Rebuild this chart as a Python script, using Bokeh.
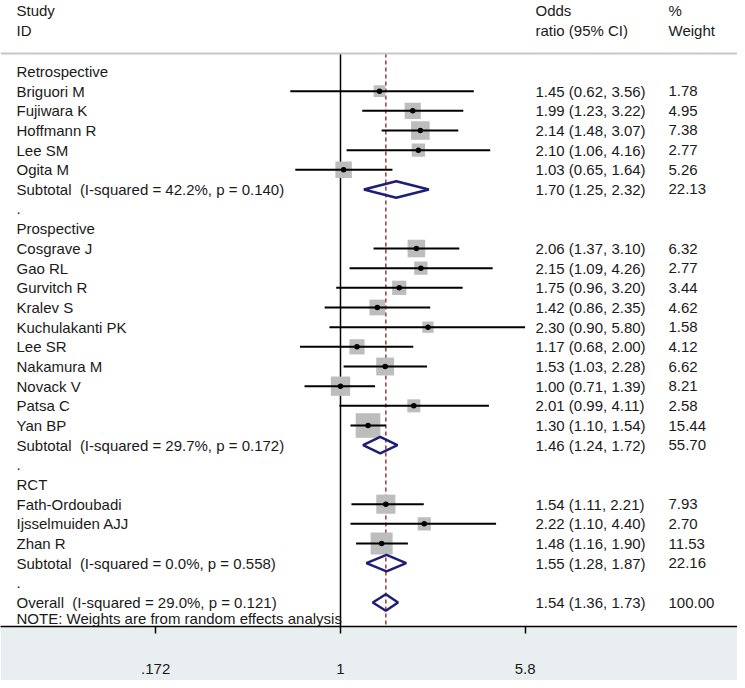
import math
from bokeh.plotting import figure
from bokeh.models import Range1d, FixedTicker, Span, ColumnDataSource
from bokeh.core.properties import value
from bokeh.embed import file_html
from bokeh.resources import INLINE

# ---------------- data ----------------
retro_names = ["Briguori M", "Fujiwara K", "Hoffmann R", "Lee SM", "Ogita M"]
retro_or = [1.45, 1.99, 2.14, 2.10, 1.03]
retro_lo = [0.62, 1.23, 1.48, 1.06, 0.65]
retro_hi = [3.56, 3.22, 3.07, 4.16, 1.64]
retro_w = [1.78, 4.95, 7.38, 2.77, 5.26]

pro_names = ["Cosgrave J", "Gao RL", "Gurvitch R", "Kralev S", "Kuchulakanti PK",
             "Lee SR", "Nakamura M", "Novack V", "Patsa C", "Yan BP"]
pro_or = [2.06, 2.15, 1.75, 1.42, 2.30, 1.17, 1.53, 1.00, 2.01, 1.30]
pro_lo = [1.37, 1.09, 0.96, 0.86, 0.90, 0.68, 1.03, 0.71, 0.99, 1.10]
pro_hi = [3.10, 4.26, 3.20, 2.35, 5.80, 2.00, 2.28, 1.39, 4.11, 1.54]
pro_w = [6.32, 2.77, 3.44, 4.62, 1.58, 4.12, 6.62, 8.21, 2.58, 15.44]

rct_names = ["Fath-Ordoubadi", "Ijsselmuiden AJJ", "Zhan R"]
rct_or = [1.54, 2.22, 1.48]
rct_lo = [1.11, 1.10, 1.16]
rct_hi = [2.21, 4.40, 1.90]
rct_w = [7.93, 2.70, 11.53]

group_names = ["Retrospective", "Prospective", "RCT"]
sub_or = [1.70, 1.46, 1.55]
sub_lo = [1.25, 1.24, 1.28]
sub_hi = [2.32, 1.72, 1.87]
sub_w = [22.13, 55.70, 22.16]
sub_i2 = ["42.2%", "29.7%", "0.0%"]
sub_p = ["0.140", "0.172", "0.558"]

overall_or, overall_lo, overall_hi, overall_w = 1.54, 1.36, 1.73, 100.00
overall_i2, overall_p = "29.0%", "0.121"

note_text = "NOTE: Weights are from random effects analysis"
header_left = ["Study", "ID"]
header_or = ["Odds", "ratio (95% CI)"]
header_w = ["%", "Weight"]

x_ticks = [0.172, 1, 5.8]
x_tick_labels = [".172", "1", "5.8"]

groups = [
    (retro_names, retro_or, retro_lo, retro_hi, retro_w),
    (pro_names, pro_or, pro_lo, pro_hi, pro_w),
    (rct_names, rct_or, rct_lo, rct_hi, rct_w),
]

GAP = " \u00a0"  # Stata's double space before the heterogeneity statistics

# ---------------- row layout ----------------
lab_y, lab_t = [], []
or_y, or_t, w_y, w_t = [], [], [], []
st_y, st_or, st_lo, st_hi, st_w = [], [], [], [], []
dm_y, dm_or, dm_lo, dm_hi = [], [], [], []

r = 0
for gi, (names, ors, los, his, ws) in enumerate(groups):
    lab_y.append(r); lab_t.append(group_names[gi]); r += 1
    for n, o, lo, hi, w in zip(names, ors, los, his, ws):
        lab_y.append(r); lab_t.append(n)
        or_y.append(r); or_t.append(f"{o:.2f} ({lo:.2f}, {hi:.2f})")
        w_y.append(r); w_t.append(f"{w:.2f}")
        st_y.append(r); st_or.append(o); st_lo.append(lo); st_hi.append(hi); st_w.append(w)
        r += 1
    lab_y.append(r); lab_t.append(f"Subtotal{GAP}(I-squared = {sub_i2[gi]}, p = {sub_p[gi]})")
    or_y.append(r); or_t.append(f"{sub_or[gi]:.2f} ({sub_lo[gi]:.2f}, {sub_hi[gi]:.2f})")
    w_y.append(r); w_t.append(f"{sub_w[gi]:.2f}")
    dm_y.append(r); dm_or.append(sub_or[gi]); dm_lo.append(sub_lo[gi]); dm_hi.append(sub_hi[gi])
    r += 1
    lab_y.append(r); lab_t.append("."); r += 1

lab_y.append(r); lab_t.append(f"Overall{GAP}(I-squared = {overall_i2}, p = {overall_p})")
or_y.append(r); or_t.append(f"{overall_or:.2f} ({overall_lo:.2f}, {overall_hi:.2f})")
w_y.append(r); w_t.append(f"{overall_w:.2f}")
dm_y.append(r); dm_or.append(overall_or); dm_lo.append(overall_lo); dm_hi.append(overall_hi)
r += 1
note_row = r - 0.2

HEAD_ROWS = [-3.1, -2.08]
SEP_ROW = -0.915
X_LO, X_HI = 0.03924, 43.86
Y_TOP, Y_BOT = -3.61, 28.22

FONT = value("Liberation Sans")
TXT = "#1a1a1a"
FS = "15px"

p = figure(width=737, height=680, x_axis_type="log",
           x_range=Range1d(X_LO, X_HI), y_range=Range1d(Y_BOT, Y_TOP),
           output_backend="svg", toolbar_location=None, y_axis_location=None,
           min_border_left=0, min_border_right=0, min_border_top=0, min_border_bottom=54,
           border_fill_color="#e9eff1", background_fill_color="white",
           outline_line_color=None)
p.grid.visible = False

ax = p.xaxis[0]
ax.ticker = FixedTicker(ticks=x_ticks)
ax.major_label_overrides = dict(zip(x_ticks, x_tick_labels))
ax.axis_line_width = 1.5
ax.axis_line_color = "black"
ax.major_tick_out = 7
ax.major_tick_in = 0
ax.major_tick_line_width = 1.5
ax.minor_tick_line_color = None
ax.major_label_standoff = 30
ax.major_label_text_font = "Liberation Sans"
ax.major_label_text_font_size = FS
ax.major_label_text_color = TXT

# separator
p.add_layout(Span(location=SEP_ROW, dimension="width", line_color="#c8c8c8", line_width=2))

# null line and overall line
p.segment(x0=[1], y0=[SEP_ROW], x1=[1], y1=[Y_BOT], line_color="black", line_width=1.5)
p.segment(x0=[overall_or], y0=[SEP_ROW], x1=[overall_or], y1=[Y_BOT],
          line_color="#9b3a3a", line_width=1.5, line_dash="4 3")

# studies
src = ColumnDataSource(dict(y=st_y, est=st_or, lo=st_lo, hi=st_hi,
                            size=[5 * math.sqrt(w) + 5 for w in st_w]))
p.scatter(x="est", y="y", size="size", marker="square", source=src,
          fill_color="#bdbdbd", line_color=None)
p.segment(x0="lo", y0="y", x1="hi", y1="y", source=src, line_color="black", line_width=2)
p.scatter(x="est", y="y", size=5.5, marker="circle", source=src,
          fill_color="black", line_color=None)

# diamonds
H = 0.42
xs = [[lo, e, hi, e] for lo, e, hi in zip(dm_lo, dm_or, dm_hi)]
ys = [[y, y - H, y, y + H] for y in dm_y]
p.patches(xs=xs, ys=ys, fill_color=None, line_color="#1e1e78", line_width=2.5)

# texts
def txt(ys, texts, xoff):
    p.text(x=[X_LO] * len(ys), y=ys, text=texts, x_offset=xoff,
           text_baseline="middle", text_align="left", text_font=FONT,
           text_font_size=FS, text_color=TXT)

txt(HEAD_ROWS, header_left, 16)
txt(HEAD_ROWS, header_or, 535)
txt(HEAD_ROWS, header_w, 668)
txt(lab_y, lab_t, 16)
txt(or_y, or_t, 535)
txt(w_y, w_t, 668)
txt([note_row], [note_text], 16)

open("out.html", "w").write(file_html(p, INLINE))
